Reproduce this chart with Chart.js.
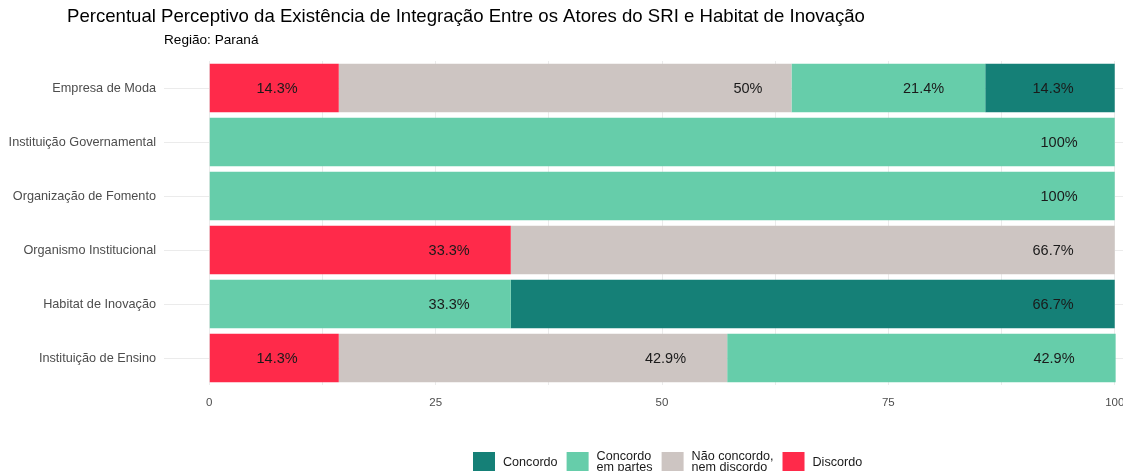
<!DOCTYPE html>
<html>
<head>
<meta charset="utf-8">
<script src="https://cdn.jsdelivr.net/npm/chart.js"></script>
<style>
  html, body { margin: 0; padding: 0; background: #fff; overflow: hidden; }
  #wrap { width: 1123px; height: 471px; overflow: hidden; }
</style>
</head>
<body>
<div id="wrap"><canvas id="barChart" width="1200" height="471"></canvas></div>
<script>
    // categorias (de cima para baixo)
    var atores = ['Empresa de Moda', 'Instituição Governamental', 'Organização de Fomento',
                  'Organismo Institucional', 'Habitat de Inovação', 'Instituição de Ensino'];
    // percentuais por resposta
    var discordo      = [14.3, 0, 0, 33.3, 0, 14.3];
    var naoConcordo   = [50, 0, 0, 66.7, 0, 42.9];
    var concordoPartes = [21.4, 100, 100, 0, 33.3, 42.9];
    var concordo      = [14.3, 0, 0, 0, 66.7, 0];
    var xTicks = [0, 25, 50, 75, 100];

    var FONT = '"Liberation Sans", Arial, sans-serif';

    var datasets = [
        { label: 'Discordo', data: discordo, backgroundColor: '#FF2A4A', legend: ['Discordo'] },
        { label: 'Não concordo, nem discordo', data: naoConcordo, backgroundColor: '#CDC5C2', legend: ['Não concordo,', 'nem discordo'] },
        { label: 'Concordo em partes', data: concordoPartes, backgroundColor: '#66CDAA', legend: ['Concordo', 'em partes'] },
        { label: 'Concordo', data: concordo, backgroundColor: '#158077', legend: ['Concordo'] }
    ];

    // rótulos com hjust = 2 no fim de cada segmento
    var labelPlugin = {
        id: 'segLabels',
        afterDatasetsDraw: function (chart) {
            var c = chart.ctx;
            c.save();
            c.font = '14.5px ' + FONT;
            c.fillStyle = '#1a1a1a';
            c.textAlign = 'right';
            c.textBaseline = 'middle';
            chart.data.datasets.forEach(function (ds, i) {
                var meta = chart.getDatasetMeta(i);
                meta.data.forEach(function (bar, j) {
                    var v = ds.data[j];
                    if (!v) return;
                    var txt = v + '%';
                    var w = c.measureText(txt).width;
                    c.fillText(txt, bar.x - w, bar.y + 1);
                });
            });
            c.restore();
        }
    };

    // título, subtítulo e legenda
    var decorPlugin = {
        id: 'decor',
        afterDraw: function (chart) {
            var c = chart.ctx;
            c.save();
            c.fillStyle = '#000';
            c.textBaseline = 'middle';
            c.textAlign = 'left';
            c.font = '18.6px ' + FONT;
            c.fillText('Percentual Perceptivo da Existência de Integração Entre os Atores do SRI e Habitat de Inovação', 67, 17);
            c.font = '13.6px ' + FONT;
            c.fillText('Região: Paraná', 164, 40);

            // legenda (ordem invertida)
            var x = 473, top = 452, key = 22;
            c.font = '12.6px ' + FONT;
            for (var i = chart.data.datasets.length - 1; i >= 0; i--) {
                var ds = chart.data.datasets[i];
                c.fillStyle = ds.backgroundColor;
                c.fillRect(x, top, key, key);
                c.fillStyle = '#1a1a1a';
                var tx = x + key + 8, w = 0;
                if (ds.legend.length === 1) {
                    c.fillText(ds.legend[0], tx, top + 11);
                    w = c.measureText(ds.legend[0]).width;
                } else {
                    c.fillText(ds.legend[0], tx, top + 5);
                    c.fillText(ds.legend[1], tx, top + 16);
                    w = Math.max(c.measureText(ds.legend[0]).width, c.measureText(ds.legend[1]).width);
                }
                x = tx + w + 9;
            }
            c.restore();
        }
    };

    var ctx = document.getElementById('barChart').getContext('2d');
    var myChart = new Chart(ctx, {
        type: 'bar',
        data: { labels: atores, datasets: datasets },
        options: {
            indexAxis: 'y',
            responsive: false,
            animation: false,
            maintainAspectRatio: false,
            layout: { padding: { left: 0, right: 40, top: 61, bottom: 0 } },
            plugins: { legend: { display: false }, tooltip: { enabled: false } },
            datasets: { bar: { barPercentage: 0.9, categoryPercentage: 1 } },
            scales: {
                x: {
                    stacked: true,
                    min: -5,
                    max: 105,
                    afterBuildTicks: function (scale) {
                        var t = [];
                        for (var v = 0; v <= 100; v += 12.5) t.push({ value: v });
                        scale.ticks = t;
                    },
                    afterFit: function (scale) { scale.height = 86; },
                    border: { display: false },
                    grid: { color: '#ebebeb', lineWidth: 1, drawTicks: false },
                    ticks: {
                        padding: 11,
                        color: '#4d4d4d',
                        font: { family: FONT, size: 11.5 },
                        maxRotation: 0,
                        autoSkip: false,
                        callback: function (v) { return xTicks.indexOf(v) >= 0 ? v : ''; }
                    }
                },
                y: {
                    stacked: true,
                    afterFit: function (scale) { scale.width = 164; },
                    border: { display: false },
                    grid: { color: '#ebebeb', lineWidth: 1, drawTicks: false, offset: false },
                    ticks: {
                        padding: 8,
                        color: '#4d4d4d',
                        font: { family: FONT, size: 12.7 }
                    }
                }
            }
        },
        plugins: [labelPlugin, decorPlugin]
    });
</script>
</body>
</html>
